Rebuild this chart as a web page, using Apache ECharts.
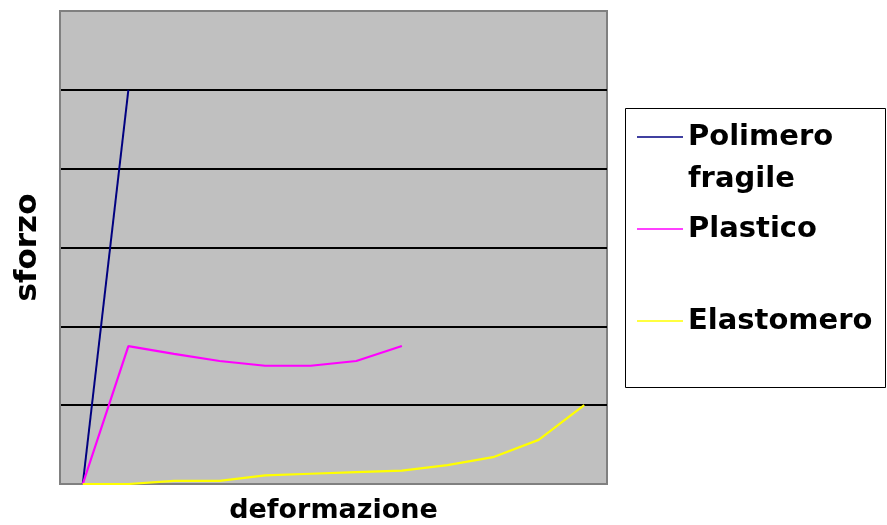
<!DOCTYPE html>
<html>
<head>
<meta charset="utf-8">
<script src="https://cdn.jsdelivr.net/npm/echarts@6/dist/echarts.min.js"></script>
<style>html,body{margin:0;padding:0;background:#fff}#c{width:887px;height:525px}</style>
</head>
<body>
<div id="c"></div>
<script>
const categories = ['1','2','3','4','5','6','7','8','9','10','11','12'];
const seriesNames = ['Polimero fragile', 'Plastico', 'Elastomero'];
const polimeroFragile = [0, 5, null, null, null, null, null, null, null, null, null, null];
const plastico = [0, 1.75, 1.65, 1.56, 1.5, 1.5, 1.56, 1.75, null, null, null, null];
const elastomero = [0, 0, 0.04, 0.04, 0.11, 0.13, 0.15, 0.17, 0.24, 0.34, 0.56, 1.0];
const yTicks = [0, 1, 2, 3, 4, 5, 6];
const xTitle = 'deformazione';
const yTitle = 'sforzo';

const FONT = 'DejaVu Sans';
const chart = echarts.init(document.getElementById('c'), null, {renderer: 'canvas'});
chart.setOption({
  animation: false,
  backgroundColor: '#ffffff',
  grid: {
    left: 60, top: 11, width: 547, height: 473,
    show: true, backgroundColor: '#C0C0C0', borderColor: '#808080', borderWidth: 2,
    containLabel: false, outerBoundsMode: 'none'
  },
  xAxis: {
    type: 'category', data: categories, boundaryGap: true,
    axisLine: {show: true, lineStyle: {color: '#808080', width: 2}},
    axisTick: {show: false}, axisLabel: {show: false}, splitLine: {show: false},
    name: xTitle, nameLocation: 'middle', nameGap: 13,
    nameTextStyle: {fontFamily: FONT, fontWeight: 'bold', fontSize: 27, color: '#000'}
  },
  yAxis: {
    type: 'value', min: yTicks[0], max: yTicks[yTicks.length - 1], interval: 1,
    axisLine: {show: true, lineStyle: {color: '#808080', width: 2}},
    axisTick: {show: false}, axisLabel: {show: false},
    splitLine: {show: true, lineStyle: {color: ['#808080', '#000', '#000', '#000', '#000', '#000', '#808080'], width: 2}},
    name: yTitle, nameLocation: 'middle', nameGap: 17, nameRotate: 90,
    nameTextStyle: {fontFamily: FONT, fontWeight: 'bold', fontSize: 31, color: '#000'}
  },
  legend: {
    orient: 'vertical', left: 637, top: 122, padding: 0,
    icon: 'rect', itemWidth: 46, itemHeight: 1.5, itemGap: 62,
    data: seriesNames,
    formatter: function (n) { return n === 'Polimero fragile' ? 'Polimero' : n; },
    textStyle: {fontFamily: FONT, fontWeight: 'bold', fontSize: 29, color: '#000', lineHeight: 30}
  },
  graphic: [
    {type: 'rect', shape: {x: 625.5, y: 108.5, width: 260, height: 279}, style: {fill: 'none', stroke: '#000', lineWidth: 1}, z: 0},
    {type: 'text', x: 688, y: 179, style: {text: 'fragile', font: 'bold 29px "DejaVu Sans"', fill: '#000', verticalAlign: 'middle', align: 'left'}}
  ],
  series: [
    {name: seriesNames[0], type: 'line', data: polimeroFragile, symbol: 'none', connectNulls: false,
     lineStyle: {color: '#000080', width: 2}, itemStyle: {color: '#000080'}},
    {name: seriesNames[1], type: 'line', data: plastico, symbol: 'none',
     lineStyle: {color: '#FF00FF', width: 2.2}, itemStyle: {color: '#FF00FF'}},
    {name: seriesNames[2], type: 'line', data: elastomero, symbol: 'none',
     lineStyle: {color: '#FFFF00', width: 2.2}, itemStyle: {color: '#FFFF00'}}
  ]
});
</script>
</body>
</html>
